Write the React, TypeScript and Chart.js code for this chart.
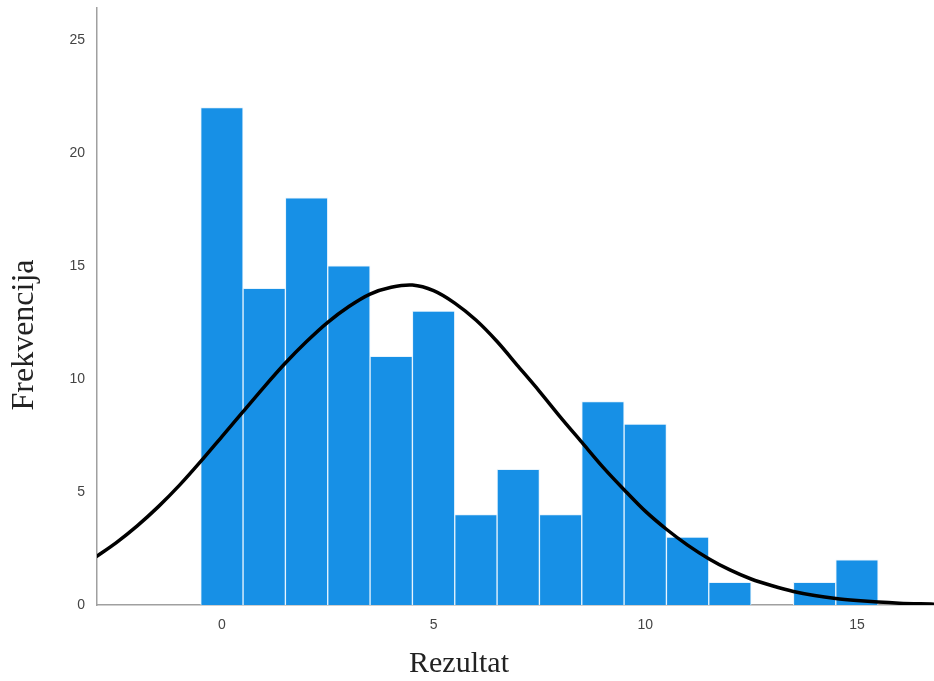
import React, { useEffect, useRef } from "react";
import { Chart, registerables } from "chart.js";

Chart.register(...registerables);

// Histogram bins (Rezultat values) and their frequencies
const binCenters = [0, 1, 2, 3, 4, 5, 6, 7, 8, 9, 10, 11, 12, 13, 14, 15];
const frequencies = [22, 14, 18, 15, 11, 13, 4, 6, 4, 9, 8, 3, 1, 0, 1, 2];

// Normal curve (every 0.5)
const curveX = [-3, -2.5, -2, -1.5, -1, -0.5, 0, 0.5, 1, 1.5, 2, 2.5, 3, 3.5, 4, 4.5, 5, 5.5, 6, 6.5, 7, 7.5, 8, 8.5, 9, 9.5, 10, 10.5, 11, 11.5, 12, 12.5, 13, 13.5, 14, 14.5, 15, 15.5, 16, 16.5, 17];
const curveY = [2.1, 2.75, 3.5, 4.35, 5.3, 6.35, 7.45, 8.55, 9.65, 10.7, 11.65, 12.5, 13.2, 13.75, 14.05, 14.15, 13.9, 13.35, 12.6, 11.65, 10.55, 9.45, 8.3, 7.2, 6.1, 5.1, 4.15, 3.35, 2.65, 2.05, 1.55, 1.15, 0.85, 0.6, 0.42, 0.29, 0.2, 0.13, 0.08, 0.05, 0.03];

const xTicks = [0, 5, 10, 15];
const yTicks = [0, 5, 10, 15, 20, 25];

const xTitle = "Rezultat";
const yTitle = "Frekvencija";

export default function App() {
  const ref = useRef<HTMLCanvasElement | null>(null);

  useEffect(() => {
    document.body.style.margin = "0";
    const canvas = ref.current;
    if (!canvas) return;

    const titlePlugin = {
      id: "axisTitles",
      afterDraw(chart: any) {
        const ctx = chart.ctx;
        ctx.save();
        ctx.fillStyle = "#222";
        ctx.textAlign = "center";
        ctx.textBaseline = "middle";
        ctx.font = "30px 'Liberation Serif', 'Times New Roman', serif";
        ctx.fillText(xTitle, 459, 664);
        ctx.font = "32px 'Liberation Serif', 'Times New Roman', serif";
        ctx.translate(25, 335);
        ctx.rotate(-Math.PI / 2);
        ctx.fillText(yTitle, 0, 0);
        ctx.restore();
      },
    };

    const chart = new Chart(canvas, {
      type: "bar",
      data: {
        datasets: [
          {
            type: "line",
            data: curveX.map((x, i) => ({ x, y: curveY[i] })),
            borderColor: "#000",
            borderWidth: 3.5,
            pointRadius: 0,
            tension: 0.3,
            fill: false,
            order: 0,
          } as any,
          {
            type: "bar",
            data: binCenters.map((x, i) => ({ x, y: frequencies[i] })),
            backgroundColor: "#1790E6",
            borderColor: "rgba(230,243,253,0.95)",
            borderWidth: 1,
            barPercentage: 1,
            categoryPercentage: 1,
            order: 1,
          } as any,
        ],
      },
      options: {
        responsive: false,
        animation: false,
        layout: { padding: { top: 8, right: 0, bottom: 0, left: 0 } },
        plugins: {
          legend: { display: false },
          tooltip: { enabled: false },
        },
        scales: {
          x: {
            type: "linear",
            min: -2.95,
            max: 16.82,
            offset: false,
            grid: { display: false, drawTicks: false },
            border: { display: true, color: "#a0a0a0", width: 1.5 },
            ticks: {
              color: "#444",
              font: { family: "'Liberation Sans', Arial, sans-serif", size: 14 },
              padding: 12,
              maxRotation: 0,
            },
            afterBuildTicks(scale: any) {
              scale.ticks = xTicks.map((v) => ({ value: v }));
            },
            afterFit(scale: any) {
              scale.height = 76;
              scale.paddingLeft = 0;
              scale.paddingRight = 0;
            },
          },
          y: {
            type: "linear",
            min: 0,
            max: 26.4,
            grid: { display: false, drawTicks: false },
            border: { display: true, color: "#a0a0a0", width: 1.5 },
            ticks: {
              color: "#444",
              font: { family: "'Liberation Sans', Arial, sans-serif", size: 14 },
              padding: 12,
            },
            afterBuildTicks(scale: any) {
              scale.ticks = yTicks.map((v) => ({ value: v }));
            },
            afterFit(scale: any) {
              scale.width = 97;
              scale.paddingTop = 0;
              scale.paddingBottom = 0;
            },
          },
        },
      } as any,
      plugins: [titlePlugin],
    });

    return () => chart.destroy();
  }, []);

  return (
    <div style={{ width: 934, height: 681, position: "relative", background: "#fff" }}>
      <canvas ref={ref} width={934} height={681} style={{ display: "block" }} />
    </div>
  );
}
